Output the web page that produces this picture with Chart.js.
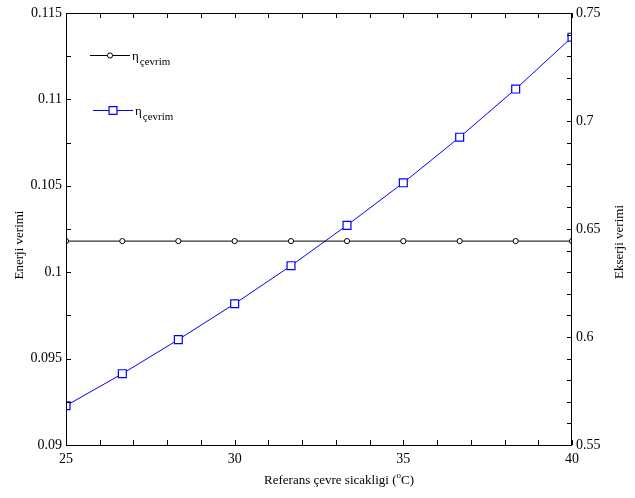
<!DOCTYPE html>
<html>
<head>
<meta charset="utf-8">
<script src="https://cdn.jsdelivr.net/npm/chart.js@4"></script>
<style>
  html, body { margin: 0; padding: 0; background: #fff; }
  #wrap { width: 635px; height: 498px; }
</style>
</head>
<body>
<div id="wrap"><canvas id="chart" width="635" height="498"></canvas></div>
<script>
// reference temperature (oC)
const temps = [25, 26.67, 28.33, 30, 31.67, 33.33, 35, 36.67, 38.33, 40];
// energy efficiency of the cycle (left axis)
const energyEff = [0.1018, 0.1018, 0.1018, 0.1018, 0.1018, 0.1018, 0.1018, 0.1018, 0.1018, 0.1018];
// exergy efficiency of the cycle (right axis)
const exergyEff = [0.5682, 0.5830, 0.5988, 0.6154, 0.6330, 0.6517, 0.6714, 0.6925, 0.7148, 0.7388];

const xMinorTicks = [25, 26, 27, 28, 29, 30, 31, 32, 33, 34, 35, 36, 37, 38, 39, 40];
const yMinorTicks = [0.09, 0.0925, 0.095, 0.0975, 0.1, 0.1025, 0.105, 0.1075, 0.11, 0.1125, 0.115];
const y1MinorTicks = [0.55, 0.56, 0.57, 0.58, 0.59, 0.6, 0.61, 0.62, 0.63, 0.64, 0.65,
  0.66, 0.67, 0.68, 0.69, 0.7, 0.71, 0.72, 0.73, 0.74, 0.75];

const FONT = '"Liberation Serif", "Times New Roman", serif';

// frame, inward ticks, axis titles and legend
const decorPlugin = {
  id: 'decor',
  afterDraw(chart) {
    const { ctx, chartArea: a, scales } = chart;
    const tick = 5;
    ctx.save();
    ctx.strokeStyle = '#000';
    ctx.lineWidth = 1;
    ctx.strokeRect(a.left + 0.5, a.top + 0.5, a.right - a.left - 1, a.bottom - a.top);

    ctx.beginPath();
    xMinorTicks.forEach((v) => {
      const px = Math.round(scales.x.getPixelForValue(v)) + 0.5;
      ctx.moveTo(px, a.bottom); ctx.lineTo(px, a.bottom - tick);
      ctx.moveTo(px, a.top); ctx.lineTo(px, a.top + tick);
    });
    yMinorTicks.forEach((v) => {
      const py = Math.round(scales.y.getPixelForValue(v)) + 0.5;
      ctx.moveTo(a.left, py); ctx.lineTo(a.left + tick, py);
    });
    y1MinorTicks.forEach((v) => {
      const py = Math.round(scales.y1.getPixelForValue(v)) + 0.5;
      ctx.moveTo(a.right, py); ctx.lineTo(a.right - tick, py);
    });
    ctx.stroke();

    // axis titles
    ctx.fillStyle = '#000';
    ctx.font = '13px ' + FONT;
    ctx.textAlign = 'center';
    ctx.textBaseline = 'middle';
    ctx.save();
    ctx.translate(20, 245);
    ctx.rotate(-Math.PI / 2);
    ctx.fillText('Enerji verimi', 0, 0);
    ctx.restore();
    ctx.save();
    ctx.translate(620, 242);
    ctx.rotate(-Math.PI / 2);
    ctx.fillText('Ekserji verimi', 0, 0);
    ctx.restore();

    // x title with superscript o
    ctx.textAlign = 'left';
    ctx.textBaseline = 'alphabetic';
    const p1 = 'Referans çevre sicakligi (';
    const p2 = 'o';
    const p3 = 'C)';
    ctx.font = '13px ' + FONT;
    const w1 = ctx.measureText(p1).width;
    const w3 = ctx.measureText(p3).width;
    ctx.font = '9px ' + FONT;
    const w2 = ctx.measureText(p2).width;
    let x0 = 339 - (w1 + w2 + w3) / 2;
    const base = 484;
    ctx.font = '13px ' + FONT;
    ctx.fillText(p1, x0, base);
    ctx.font = '9px ' + FONT;
    ctx.fillText(p2, x0 + w1, base - 6);
    ctx.font = '13px ' + FONT;
    ctx.fillText(p3, x0 + w1 + w2, base);

    // legend
    const entries = [
      { ds: chart.data.datasets[0], x1: 90, x2: 130, y: 55 },
      { ds: chart.data.datasets[1], x1: 93, x2: 133, y: 110 },
    ];
    entries.forEach((e) => {
      ctx.strokeStyle = e.ds.borderColor;
      ctx.lineWidth = 1;
      ctx.beginPath();
      ctx.moveTo(e.x1, e.y + 0.5);
      ctx.lineTo(e.x2, e.y + 0.5);
      ctx.stroke();
      ctx.fillStyle = e.ds.pointBackgroundColor;
      ctx.strokeStyle = e.ds.pointBorderColor;
      ctx.lineWidth = e.ds.pointBorderWidth;
      Chart.helpers.drawPoint(ctx, {
        pointStyle: e.ds.pointStyle,
        radius: e.ds.pointRadius,
        borderWidth: e.ds.pointBorderWidth,
        rotation: 0,
      }, (e.x1 + e.x2) / 2, e.y + 0.5);
      ctx.fillStyle = '#000';
      ctx.font = '13px ' + FONT;
      ctx.fillText('η', e.x2 + 2, e.y + 5);
      const wEta = ctx.measureText('η').width;
      ctx.font = '11px ' + FONT;
      ctx.fillText('çevrim', e.x2 + 3 + wEta, e.y + 10);
    });
    ctx.restore();
  },
};

new Chart(document.getElementById('chart').getContext('2d'), {
  type: 'line',
  data: {
    datasets: [
      {
        label: 'Enerji verimi',
        data: temps.map((t, i) => ({ x: t, y: energyEff[i] })),
        yAxisID: 'y',
        borderColor: '#000000',
        borderWidth: 1,
        pointStyle: 'circle',
        pointRadius: 2.6,
        pointBorderWidth: 1,
        pointBorderColor: '#000000',
        pointBackgroundColor: '#ffffff',
        clip: 0,
      },
      {
        label: 'Ekserji verimi',
        data: temps.map((t, i) => ({ x: t, y: exergyEff[i] })),
        yAxisID: 'y1',
        borderColor: '#0000ff',
        borderWidth: 1,
        pointStyle: 'rect',
        pointRadius: 5.6,
        pointBorderWidth: 1.2,
        pointBorderColor: '#0000ff',
        pointBackgroundColor: '#ffffff',
        clip: 0,
      },
    ],
  },
  options: {
    responsive: false,
    animation: false,
    events: [],
    layout: { padding: { top: 13, left: 0, right: 0, bottom: 0 } },
    plugins: {
      legend: { display: false },
      tooltip: { enabled: false },
    },
    scales: {
      x: {
        type: 'linear',
        min: 25,
        max: 40,
        grid: { display: false, drawTicks: false },
        border: { display: false },
        ticks: {
          stepSize: 5,
          padding: 6,
          color: '#000',
          font: { family: FONT, size: 14 },
          maxRotation: 0,
        },
        afterFit: (s) => { s.height = 53; },
      },
      y: {
        position: 'left',
        min: 0.09,
        max: 0.115,
        grid: { display: false, drawTicks: false },
        border: { display: false },
        ticks: {
          stepSize: 0.005,
          padding: 4,
          color: '#000',
          font: { family: FONT, size: 14 },
          callback: (v) => String(+v.toFixed(4)),
        },
        afterFit: (s) => { s.width = 66; },
      },
      y1: {
        position: 'right',
        min: 0.55,
        max: 0.75,
        grid: { display: false, drawTicks: false },
        border: { display: false },
        ticks: {
          stepSize: 0.05,
          padding: 4,
          color: '#000',
          font: { family: FONT, size: 14 },
          callback: (v) => String(+v.toFixed(3)),
        },
        afterFit: (s) => { s.width = 63; },
      },
    },
  },
  plugins: [decorPlugin],
});
</script>
</body>
</html>
